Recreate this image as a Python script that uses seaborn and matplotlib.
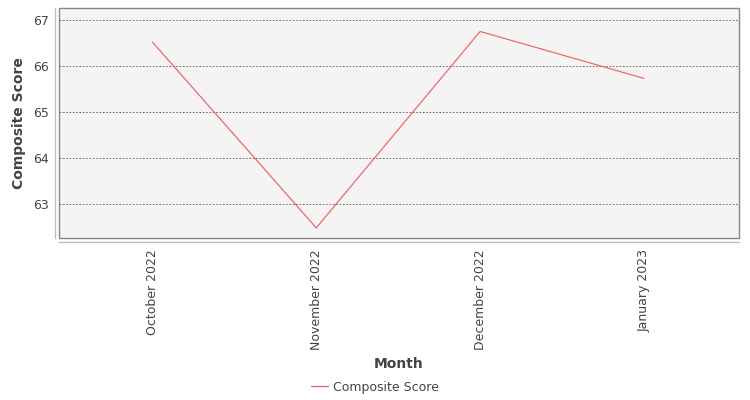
import pandas as pd
import matplotlib
matplotlib.use('Agg')
import matplotlib.pyplot as plt
import seaborn as sns
from matplotlib.patches import Rectangle

months = ['October 2022', 'November 2022', 'December 2022', 'January 2023']
scores = [66.52, 62.48, 66.75, 65.73]
y_ticks = [63, 64, 65, 66, 67]

df = pd.DataFrame({'Month': months, 'Composite Score': scores})

sns.set_style('white')
plt.rcParams['font.family'] = ['DejaVu Sans']

fig = plt.figure(figsize=(7.5, 4), dpi=100)
ax = fig.add_axes([59 / 750, 1 - 238 / 400, 680 / 750, 230 / 400])
ax.set_facecolor('#f4f4f4')

sns.lineplot(data=df, x='Month', y='Composite Score', ax=ax, sort=False,
             color='#ff5555', linewidth=0.8, label='Composite Score')

ax.set_xlim(-0.57, 3.58)
ax.set_ylim(62.26, 67.26)
ax.set_yticks(y_ticks)
ax.yaxis.grid(True, color='#555555', linestyle=(0, (2, 2)), linewidth=0.6)
ax.xaxis.grid(False)

# plot border
ax.add_patch(Rectangle((0, 0), 1, 1, transform=ax.transAxes, fill=False,
                       edgecolor='#888888', linewidth=1.0, zorder=5, clip_on=False))
for side in ['top', 'right']:
    ax.spines[side].set_visible(False)
for side in ['left', 'bottom']:
    ax.spines[side].set_position(('outward', 3))
    ax.spines[side].set_color('#c0c0c0')
    ax.spines[side].set_linewidth(1.0)

ax.tick_params(axis='x', length=3, width=0.8, color='#c0c0c0', labelsize=9,
               labelcolor='#444444', rotation=90, pad=2)
ax.tick_params(axis='y', length=0, labelsize=9, labelcolor='#444444', pad=4)

ax.set_xlabel('Month', fontsize=10, fontweight='bold', color='#444444', labelpad=5)
ax.set_ylabel('Composite Score', fontsize=10, fontweight='bold', color='#444444', labelpad=5)

ax.legend_.remove()
handles, labels = ax.get_legend_handles_labels()
leg = fig.legend(handles, labels, loc='center', bbox_to_anchor=(0.5, 1 - 387 / 400),
                 frameon=False, fontsize=9, handlelength=1.4, handletextpad=0.4)
for t in leg.get_texts():
    t.set_color('#444444')

fig.savefig('out.png', dpi=100, facecolor='white')
